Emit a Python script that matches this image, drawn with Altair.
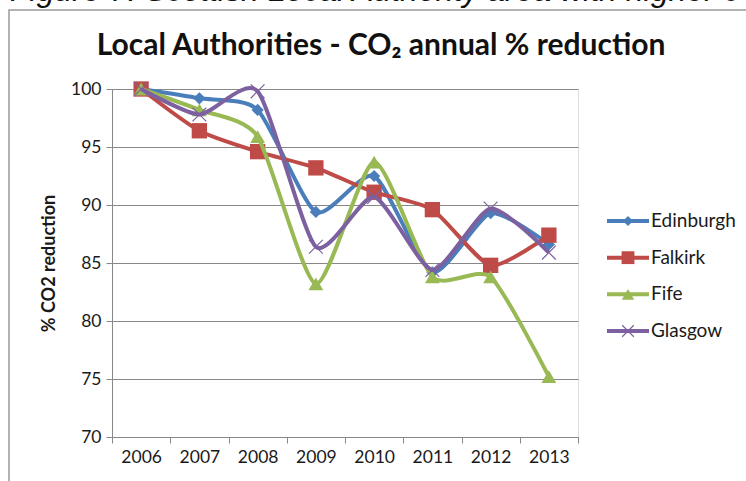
import altair as alt
import pandas as pd

years = [2006, 2007, 2008, 2009, 2010, 2011, 2012, 2013]
series_names = ["Edinburgh", "Falkirk", "Fife", "Glasgow"]
edinburgh = [100, 99.2, 98.2, 89.4, 92.5, 84.2, 89.3, 86.6]
falkirk = [100, 96.4, 94.6, 93.2, 91.1, 89.6, 84.8, 87.4]
fife = [100, 98.2, 95.9, 83.2, 93.7, 83.8, 83.8, 75.2]
glasgow = [100, 97.8, 99.8, 86.4, 90.7, 84.4, 89.7, 85.9]
colors = ["#4a7ebb", "#be4b48", "#98b954", "#7d60a0"]
caption = "Figure 7: Scottish Local Authority area with higher c"
chart_title = "Local Authorities - CO\u2082 annual % reduction"
y_title = "% CO2 reduction"

rows = []
for name, vals in zip(series_names, [edinburgh, falkirk, fife, glasgow]):
    for yr, v in zip(years, vals):
        rows.append({"year": yr, "series": name, "value": v})
df = pd.DataFrame(rows)
legend_df = pd.DataFrame({"series": series_names})
one = pd.DataFrame({"k": [0]})

W, H = 466, 348
FONT = "Lato"
GRAY = "#888888"

x_enc = alt.X(
    "year:Q",
    scale=alt.Scale(domain=[2005.5, 2013.5], nice=False, zero=False),
    axis=alt.Axis(
        values=[2005.5 + i for i in range(9)], title=None, grid=False,
        tickSize=6, tickColor=GRAY, domainColor=GRAY, domainWidth=1,
        labelOffset=W / 16,
        labelExpr="datum.value < 2013 ? format(datum.value + 0.5, 'd') : ''",
        labelFont=FONT, labelFontSize=17.5, labelColor="#1a1a1a", labelPadding=5,
        labelFlush=False, labelOverlap=False,
    ),
)
y_enc = alt.Y(
    "value:Q",
    scale=alt.Scale(domain=[70, 100], nice=False, zero=False),
    axis=alt.Axis(
        values=list(range(70, 101, 5)), title=y_title, grid=True, gridColor=GRAY,
        gridWidth=1, tickSize=6, tickColor=GRAY, domainColor=GRAY,
        labelFont=FONT, labelFontSize=17.5, labelColor="#1a1a1a", labelPadding=5,
        titleFont=FONT, titleFontSize=18, titleFontWeight="bold", titleColor="#1a1a1a",
        titlePadding=12,
    ),
)

shapes = ["diamond", "square", "triangle-up", "M-1,-1L1,1M-1,1L1,-1"]
sizes = [150, 235, 220, 190]

main_layers = []
for name, col, shp, sz in zip(series_names, colors, shapes, sizes):
    sub = alt.Chart(df).transform_filter(alt.datum.series == name)
    main_layers.append(
        sub.mark_line(color=col, strokeWidth=4, interpolate="cardinal", tension=0.35).encode(x=x_enc, y=y_enc)
    )
    if shp.startswith("M"):
        pt = sub.mark_point(shape=shp, filled=False, color=col, strokeWidth=1.2, size=sz, opacity=1)
    else:
        pt = sub.mark_point(shape=shp, filled=True, color=col, size=sz, opacity=1, strokeWidth=0)
    main_layers.append(pt.encode(x=x_enc, y=y_enc))
main = alt.layer(*main_layers)

ly = alt.Y("series:N", scale=alt.Scale(type="point", domain=series_names, range=[132, 242], padding=0), axis=None)
lc = alt.Color("series:N", scale=alt.Scale(domain=series_names, range=colors), legend=None)
leg_layers = [
    alt.Chart(legend_df).mark_rule(strokeWidth=4).encode(
        x=alt.value(495), x2=alt.value(537), y=ly, color=lc)
]
for name, col, shp, sz in zip(series_names, colors, shapes, sizes):
    sub = alt.Chart(legend_df).transform_filter(alt.datum.series == name)
    if shp.startswith("M"):
        pt = sub.mark_point(shape=shp, filled=False, color=col, strokeWidth=1.2, size=sz * 0.7, opacity=1)
    else:
        pt = sub.mark_point(shape=shp, filled=True, color=col, size=sz * 0.7, opacity=1, strokeWidth=0)
    leg_layers.append(pt.encode(x=alt.value(516), y=ly))
leg_layers.append(
    alt.Chart(legend_df).mark_text(align="left", baseline="middle", font=FONT, fontSize=19,
                                   color="#1a1a1a").encode(x=alt.value(539), y=ly, text="series:N")
)
legend = alt.layer(*leg_layers)

frame = alt.Chart(one).mark_rect(fillOpacity=0, stroke="#999999", strokeWidth=1.5).encode(
    x=alt.value(-103), y=alt.value(-79), x2=alt.value(800), y2=alt.value(600))
title_t = alt.Chart(one).mark_text(align="center", baseline="alphabetic", font=FONT, fontSize=30,
                                   fontWeight="bold", color="#111111").encode(
    x=alt.value(269), y=alt.value(-34), text=alt.value(chart_title))
cap_t = alt.Chart(one).mark_text(align="left", baseline="alphabetic", font="Liberation Sans",
                                 fontSize=32, fontStyle="italic", color="#111111").encode(
    x=alt.value(-102), y=alt.value(-88), text=alt.value(caption))

chart = alt.layer(frame, main, legend, title_t, cap_t).resolve_scale(y="independent").properties(
    width=W, height=H,
    padding={"left": 112, "top": 89, "right": 168, "bottom": 44},
    autosize=alt.AutoSizeParams(type="none"),
).configure_view(stroke=None).configure(background="white")

chart.save("out.html", embed_options={"renderer": "svg", "actions": False})
